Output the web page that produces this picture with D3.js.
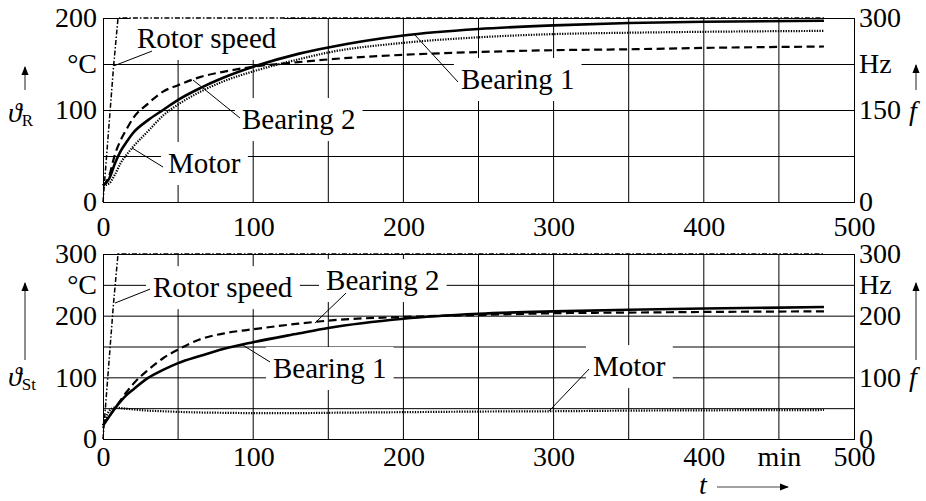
<!DOCTYPE html>
<html>
<head>
<meta charset="utf-8">
<script src="https://cdn.jsdelivr.net/npm/d3@7"></script>
<style>
  body { margin: 0; background: #fff; }
</style>
</head>
<body>
<svg id="chart" width="926" height="501"></svg>
<script>
// time points (min) used for the temperature curves
const tTemp = [0, 4, 8, 12, 16, 20, 30, 40, 50, 65, 80, 100, 130, 150, 200, 250, 300, 350, 400, 480];

// rotor temperatures (°C)
const rotorBearing1 = [18, 25, 42, 56, 66, 75, 89, 100, 111, 124, 135, 147, 161, 168, 181, 188, 192, 194.5, 196, 197];
const rotorBearing2 = [18, 28, 52, 68, 80, 91, 107, 120, 127, 136, 141.5, 147, 152, 155, 160, 163, 165, 166, 167.5, 169];
const rotorMotor    = [18, 20, 30, 43, 52, 60, 77, 94, 106, 120, 131, 142, 155, 162.5, 173, 179, 182.5, 184, 185, 186];

// stator temperatures (°C)
const statorBearing1 = [22, 36, 50, 62, 72, 80, 99, 112, 123, 135, 146, 157, 171, 180, 195, 203, 207, 209.5, 211.5, 214];
const statorBearing2 = [22, 36, 50, 64, 77, 89, 112, 131, 145, 162, 171, 178, 187, 192, 198, 201, 204, 205, 206, 207];
const statorMotor    = [18, 45, 51, 50, 49, 48, 46, 45, 44, 43, 42.5, 42, 42, 42.5, 43.5, 44.5, 45, 46, 46.5, 47];

// rotor speed (Hz)
const tSpeed = [0, 7, 10, 480];
const rotorSpeed = [0, 220, 300, 300];

// axis ticks
const xTicksTop = [0, 100, 200, 300, 400, 500];
const xTicksBottom = [0, 100, 200, 300, 400, 450, 500];
const leftTicksTop = [0, 100, 150, 200];
const rightTicksTop = [0, 150, 225, 300];
const leftTicksBottom = [0, 100, 200, 250, 300];
const rightTicksBottom = [0, 100, 200, 250, 300];

const FONT = '"Liberation Serif"';
const svg = d3.select("#chart");
const x = d3.scaleLinear().domain([0, 500]).range([103, 854]);

const styles = {
    b1: { width: 2.6, dash: null },
    b2: { width: 2.2, dash: "8,4.5" },
    motor: { width: 2.2, dash: "1.3,1.3" },
    speed: { width: 1.5, dash: "5,2,1.5,2" }
};

const panels = [
    {
        top: 18, bottom: 202, tMax: 200, gridY: [50, 100, 150],
        leftTicks: leftTicksTop, leftUnit: 150, rightTicks: rightTicksTop, rightUnit: 225,
        xTicks: xTicksTop, xPad: 14,
        series: [["b1", rotorBearing1], ["b2", rotorBearing2], ["motor", rotorMotor]],
        labels: [
            { text: "Rotor speed", t: 22.6, v: 167.4, l: [32.6, 164, 7.3, 148] },
            { text: "Bearing 1", t: 238.3, v: 122.8, l: [236.4, 130.4, 207.7, 181.5] },
            { text: "Bearing 2", t: 92.5, v: 79.3, l: [91.2, 91.3, 59.9, 132.6] },
            { text: "Motor", t: 43.3, v: 31.5, l: [40, 38, 19.3, 58.7] }
        ],
        sub: "R", symY: 122, arrowL: [90, 67], fY: 120, arrowR: [90, 65]
    },
    {
        top: 254, bottom: 439, tMax: 300, gridY: [50, 100, 150, 200, 250],
        leftTicks: leftTicksBottom, leftUnit: 250, rightTicks: rightTicksBottom, rightUnit: 250,
        xTicks: xTicksBottom, xPad: 7,
        series: [["b1", statorBearing1], ["b2", statorBearing2], ["motor", statorMotor]],
        labels: [
            { text: "Rotor speed", t: 33.3, v: 230, l: [31.3, 243, 8, 220.5] },
            { text: "Bearing 2", t: 148.5, v: 241.6, l: [161.8, 236.7, 141.1, 188.1] },
            { text: "Bearing 1", t: 113.2, v: 98.9, l: [111.2, 124.9, 91.9, 154] },
            { text: "Motor", t: 326.2, v: 102, l: [323.6, 113.5, 297, 45.4] }
        ],
        sub: "St", symY: 386, arrowL: [360, 283], fY: 386, arrowR: [360, 283]
    }
];

svg.append("defs").append("marker")
    .attr("id", "head").attr("viewBox", "0 0 10 10")
    .attr("refX", 9).attr("refY", 5)
    .attr("markerWidth", 9).attr("markerHeight", 9)
    .attr("markerUnits", "userSpaceOnUse").attr("orient", "auto")
    .append("path").attr("d", "M0,1L10,5L0,9Z").attr("fill", "#000");

const labelGroups = [];

panels.forEach(p => {
    const y = d3.scaleLinear().domain([0, p.tMax]).range([p.bottom, p.top]);
    const yf = d3.scaleLinear().domain([0, 300]).range([p.bottom, p.top]);
    const g = svg.append("g");

    // grid
    g.append("g").selectAll("line").data(d3.range(50, 500, 50)).join("line")
        .attr("x1", d => x(d)).attr("x2", d => x(d))
        .attr("y1", p.top).attr("y2", p.bottom)
        .attr("stroke", "#000").attr("stroke-width", 1);
    g.append("g").attr("transform", "translate(0,0.5)")
        .selectAll("line").data(p.gridY).join("line")
        .attr("x1", x(0)).attr("x2", x(500))
        .attr("y1", d => y(d)).attr("y2", d => y(d))
        .attr("stroke", "#000").attr("stroke-width", 1);
    g.append("rect")
        .attr("x", x(0) + 0.5).attr("y", p.top + 0.5)
        .attr("width", x(500) - x(0)).attr("height", p.bottom - p.top)
        .attr("fill", "none").attr("stroke", "#000");

    // labels (white boxes are added once the font is in use) and leaders
    p.labels.forEach(lb => {
        const lg = g.append("g");
        lg.append("text")
            .attr("x", x(lb.t)).attr("y", y(lb.v))
            .attr("font-family", FONT).attr("font-size", 29).text(lb.text);
        labelGroups.push(lg);
        g.append("line")
            .attr("x1", x(lb.l[0])).attr("y1", y(lb.l[1]))
            .attr("x2", x(lb.l[2])).attr("y2", y(lb.l[3]))
            .attr("stroke", "#000").attr("stroke-width", 1);
    });

    // curves
    p.series.forEach(([key, vals]) => {
        const line = d3.line().x((d, i) => x(tTemp[i])).y(d => y(d)).curve(d3.curveMonotoneX);
        g.append("path").datum(vals).attr("d", line)
            .attr("fill", "none").attr("stroke", "#000")
            .attr("stroke-width", styles[key].width)
            .attr("stroke-dasharray", styles[key].dash);
    });
    const speedLine = d3.line().x((d, i) => x(tSpeed[i])).y(d => yf(d));
    g.append("path").datum(rotorSpeed).attr("d", speedLine)
        .attr("fill", "none").attr("stroke", "#000")
        .attr("stroke-width", styles.speed.width)
        .attr("stroke-dasharray", styles.speed.dash);

    // axes
    const fontAxis = sel => {
        sel.attr("font-size", 28).attr("font-family", FONT);
        sel.selectAll("text").attr("font-family", FONT);
        sel.select(".domain").remove();
    };
    g.append("g").attr("transform", `translate(${x(0)},0)`)
        .call(d3.axisLeft(y).tickValues(p.leftTicks).tickSize(0).tickPadding(6)
            .tickFormat(d => d === p.leftUnit ? "°C" : d))
        .call(fontAxis);
    g.append("g").attr("transform", `translate(${x(500)},0)`)
        .call(d3.axisRight(yf).tickValues(p.rightTicks).tickSize(0).tickPadding(5)
            .tickFormat(d => d === p.rightUnit ? "Hz" : d))
        .call(fontAxis);
    g.append("g").attr("transform", `translate(0,${p.bottom})`)
        .call(d3.axisBottom(x).tickValues(p.xTicks).tickSize(0).tickPadding(p.xPad)
            .tickFormat(d => d === 450 ? "min" : d))
        .call(fontAxis);

    // quantity symbols with arrows
    const sym = g.append("text").attr("x", 8).attr("y", p.symY)
        .attr("font-family", FONT).attr("font-size", 28);
    sym.append("tspan").attr("font-style", "italic").text("ϑ");
    sym.append("tspan").attr("font-size", 17).attr("dy", 4).text(p.sub);
    g.append("line").attr("x1", 25).attr("x2", 25)
        .attr("y1", p.arrowL[0]).attr("y2", p.arrowL[1])
        .attr("stroke", "#444").attr("stroke-width", 1.2).attr("marker-end", "url(#head)");

    g.append("text").attr("x", 909).attr("y", p.fY)
        .attr("font-family", FONT).attr("font-size", 28)
        .attr("font-style", "italic").text("f");
    g.append("line").attr("x1", 916).attr("x2", 916)
        .attr("y1", p.arrowR[0]).attr("y2", p.arrowR[1])
        .attr("stroke", "#444").attr("stroke-width", 1.2).attr("marker-end", "url(#head)");
});

// time axis caption
svg.append("text").attr("x", 699).attr("y", 494)
    .attr("font-family", FONT).attr("font-size", 28)
    .attr("font-style", "italic").text("t");
svg.append("line").attr("x1", 717).attr("x2", 788).attr("y1", 487).attr("y2", 487)
    .attr("stroke", "#444").attr("stroke-width", 1.2).attr("marker-end", "url(#head)");

// white boxes behind the curve labels, measured after the font is ready
function addBoxes() {
    labelGroups.forEach(lg => {
        const bb = lg.select("text").node().getBBox();
        lg.insert("rect", "text")
            .attr("x", bb.x - 7).attr("y", bb.y - 5)
            .attr("width", bb.width + 14).attr("height", bb.height + 11)
            .attr("fill", "#fff");
    });
}
document.fonts.ready.then(() => requestAnimationFrame(addBoxes));
</script>
</body>
</html>
